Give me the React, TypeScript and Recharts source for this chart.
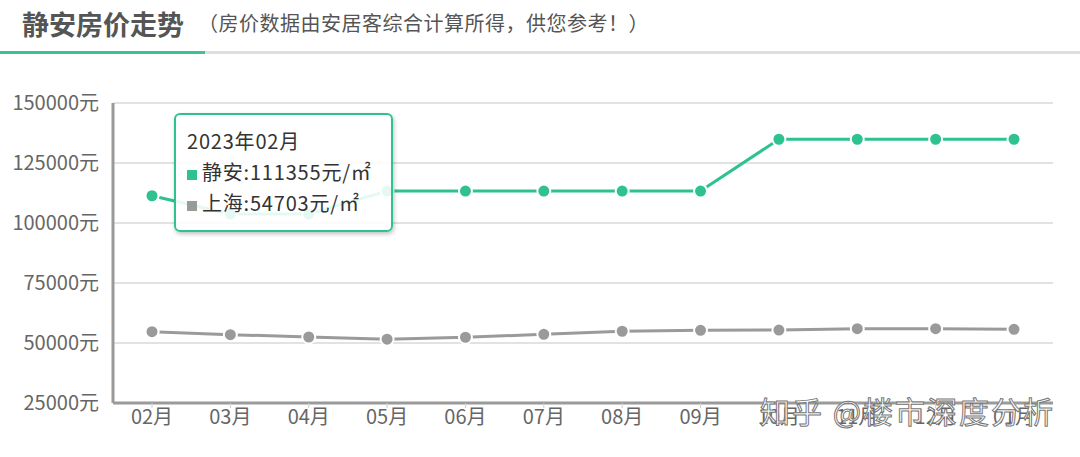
import React from "react";
import {
  CartesianGrid,
  Line,
  LineChart,
  Tooltip,
  XAxis,
  YAxis,
} from "recharts";

const months = ["02月", "03月", "04月", "05月", "06月", "07月", "08月", "09月", "10月", "11月", "12月", "01月"];
const jingan = [111355, 103750, 103750, 113300, 113300, 113300, 113300, 113300, 134900, 134900, 134900, 134900];
const shanghai = [54703, 53470, 52500, 51600, 52400, 53600, 54900, 55300, 55400, 55950, 55950, 55700];
const yTicks = [25000, 50000, 75000, 100000, 125000, 150000];

const GREEN = "#2dc28f";
const GRAY = "#9a9a9a";

const data = months.map((m, i) => ({
  month: m,
  label: "2023年" + m,
  jingan: jingan[i],
  shanghai: shanghai[i],
}));

const font = '"Noto Sans CJK SC", "Noto Sans", sans-serif';

const TipBox = ({ active, payload }: any) => {
  if (!active || !payload || !payload.length) return null;
  const row = payload[0].payload;
  return (
    <div
      style={{
        width: 219,
        height: 119,
        boxSizing: "border-box",
        background: "rgba(255,255,255,0.88)",
        border: `2px solid ${GREEN}`,
        borderRadius: 6,
        boxShadow: "1px 2px 4px rgba(0,0,0,0.25)",
        padding: "10px 0 0 11px",
        fontFamily: font,
        fontSize: 20,
        letterSpacing: 0.8,
        color: "#333",
        lineHeight: "31px",
        whiteSpace: "nowrap",
      }}
    >
      <div>{row.label}</div>
      <div>
        <span style={{ display: "inline-block", width: 10, height: 10, background: GREEN, marginRight: 5 }} />
        静安:{row.jingan}元/㎡
      </div>
      <div>
        <span style={{ display: "inline-block", width: 10, height: 10, background: GRAY, marginRight: 5 }} />
        上海:{row.shanghai}元/㎡
      </div>
    </div>
  );
};

export default function App() {
  return (
    <div style={{ position: "relative", width: 1080, height: 457, background: "#fff", fontFamily: font, overflow: "hidden" }}>
      <style>{`body{margin:0}`}</style>
      <div style={{ position: "absolute", left: 22, top: 6, fontSize: 27, fontWeight: 700, color: "#555", lineHeight: "36px" }}>
        静安房价走势
      </div>
      <div style={{ position: "absolute", left: 198, top: 8, fontSize: 20, color: "#555", lineHeight: "30px", letterSpacing: 0.5 }}>
        （房价数据由安居客综合计算所得，供您参考！）
      </div>
      <div style={{ position: "absolute", left: 0, top: 51, width: 1080, height: 3, background: "#dedede" }} />
      <div style={{ position: "absolute", left: 0, top: 51, width: 205, height: 3, background: "#3cc29a" }} />
      <div style={{ position: "absolute", left: 0, top: 0 }}>
        <LineChart width={1080} height={457} data={data} margin={{ top: 103, right: 27, bottom: 14, left: 3 }}>
          <CartesianGrid horizontal vertical={false} stroke="#e2e2e2" strokeWidth={2} />
          <XAxis
            dataKey="month"
            height={40}
            padding={{ left: 39, right: 39 }}
            axisLine={{ stroke: GRAY, strokeWidth: 3 }}
            tickLine={{ stroke: "#cfcfcf", strokeWidth: 1 }}
            tickSize={5}
            tick={{ fontSize: 20, fill: "#666", fontFamily: font }}
            interval={0}
          />
          <YAxis
            width={110}
            domain={[25000, 150000]}
            ticks={yTicks}
            interval={0}
            tickFormatter={(v: number) => `${v}元`}
            axisLine={{ stroke: GRAY, strokeWidth: 3 }}
            tickLine={false}
            tickMargin={8}
            tick={{ fontSize: 20, fill: "#666", fontFamily: font }}
          />
          <Tooltip
            content={<TipBox />}
            defaultIndex={0}
            active
            cursor={false}
            position={{ x: 174, y: 113 }}
            isAnimationActive={false}
            wrapperStyle={{ outline: "none" }}
          />
          <Line
            dataKey="jingan"
            stroke={GREEN}
            strokeWidth={3}
            dot={{ r: 6.5, fill: GREEN, stroke: "#fff", strokeWidth: 2 }}
            activeDot={{ r: 6.5, fill: GREEN, stroke: "#fff", strokeWidth: 2 }}
            isAnimationActive={false}
          />
          <Line
            dataKey="shanghai"
            stroke={GRAY}
            strokeWidth={3}
            dot={{ r: 6.5, fill: GRAY, stroke: "#fff", strokeWidth: 2 }}
            activeDot={{ r: 6.5, fill: GRAY, stroke: "#fff", strokeWidth: 2 }}
            isAnimationActive={false}
          />
        </LineChart>
      </div>
      <div
        style={{
          position: "absolute",
          left: 760,
          top: 388,
          fontSize: 30,
          color: "#fff",
          WebkitTextStroke: "1px #777",
          letterSpacing: 2,
          pointerEvents: "none",
          whiteSpace: "nowrap",
        }}
      >
        知乎 @楼市深度分析
      </div>
    </div>
  );
}
